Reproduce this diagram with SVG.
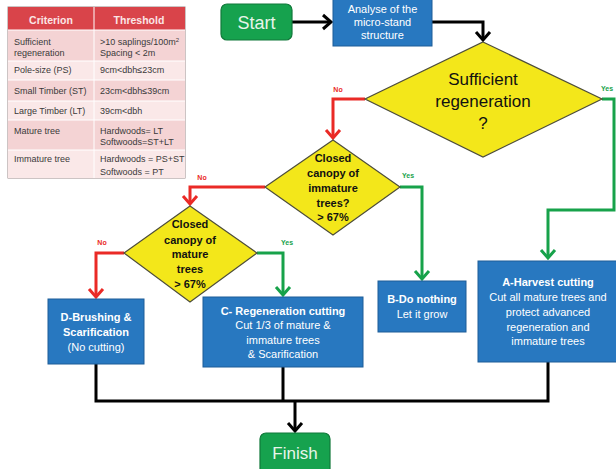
<svg xmlns="http://www.w3.org/2000/svg" width="616" height="469" viewBox="0 0 616 469">
<style>
.t{font-family:"Liberation Sans",Arial,sans-serif}
.tb{font-size:9px;fill:#3a3a3a}
.hd{font-size:10.5px;fill:#fbe6e6;font-weight:bold}
.wb{fill:#fff;font-size:11px;text-anchor:middle}
.bold{font-weight:bold}
.dia{fill:#f3e71a;stroke:#4d4d3a;stroke-width:1.2}
.dt{font-size:11px;font-weight:bold;fill:#111;text-anchor:middle}
.box{fill:#2878c0;stroke:#1c5d98;stroke-width:1}
.grn{fill:#16a24e;stroke:#11793a;stroke-width:1.2}
.cb{fill:none;stroke:#000;stroke-width:3}
.cr{fill:none;stroke:#ea2a26;stroke-width:3}
.cg{fill:none;stroke:#17a24a;stroke-width:3}
.lr{font-size:7px;font-weight:bold;fill:#ea2a26;text-anchor:middle}
.lg{font-size:7px;font-weight:bold;fill:#17a24a;text-anchor:middle}
</style>
<defs>
<marker id="ab" markerUnits="userSpaceOnUse" markerWidth="20" markerHeight="20" refX="10" refY="10" orient="auto" overflow="visible"><path d="M2,3 L10,10 L2,17" fill="none" stroke="#000" stroke-width="3"/></marker>
<marker id="ar" markerUnits="userSpaceOnUse" markerWidth="20" markerHeight="20" refX="10" refY="10" orient="auto" overflow="visible"><path d="M2,3 L10,10 L2,17" fill="none" stroke="#ea2a26" stroke-width="3"/></marker>
<marker id="ag" markerUnits="userSpaceOnUse" markerWidth="20" markerHeight="20" refX="10" refY="10" orient="auto" overflow="visible"><path d="M2,3 L10,10 L2,17" fill="none" stroke="#17a24a" stroke-width="3"/></marker>
</defs>
<rect width="616" height="469" fill="#fff"/>

<g id="table" class="t">
<rect x="8" y="7" width="177" height="171" fill="#fff" stroke="#9a8a8a" stroke-width="1"/>
<rect x="8" y="7" width="177" height="23" fill="#d9444a"/>
<rect x="8" y="30" width="177" height="31" fill="#f4d3d4"/>
<rect x="8" y="61" width="177" height="19" fill="#fae8e8"/>
<rect x="8" y="80" width="177" height="21" fill="#f4d3d4"/>
<rect x="8" y="101" width="177" height="19" fill="#fae8e8"/>
<rect x="8" y="120" width="177" height="30" fill="#f4d3d4"/>
<rect x="8" y="150" width="177" height="28" fill="#fae8e8"/>
<g stroke="#fff" stroke-width="1"><line x1="94" y1="7" x2="94" y2="178"/><line x1="8" y1="30" x2="185" y2="30"/><line x1="8" y1="61" x2="185" y2="61"/><line x1="8" y1="80" x2="185" y2="80"/><line x1="8" y1="101" x2="185" y2="101"/><line x1="8" y1="120" x2="185" y2="120"/><line x1="8" y1="150" x2="185" y2="150"/></g>
<text class="hd" x="51" y="24" text-anchor="middle">Criterion</text>
<text class="hd" x="139" y="24" text-anchor="middle">Threshold</text>
<g class="tb">
<text x="14" y="45">Sufficient</text><text x="14" y="56">regeneration</text>
<text x="100" y="45">&gt;10 saplings/100m<tspan font-size="6" dy="-3">2</tspan></text><text x="100" y="56">Spacing &lt;  2m</text>
<text x="14" y="73">Pole-size (PS)</text><text x="100" y="73">9cm&lt;dbh≤23cm</text>
<text x="14" y="94">Small Timber (ST)</text><text x="100" y="94">23cm&lt;dbh≤39cm</text>
<text x="14" y="114">Large Timber (LT)</text><text x="100" y="114">39cm&lt;dbh</text>
<text x="14" y="134">Mature tree</text><text x="100" y="134">Hardwoods= LT</text><text x="100" y="145">Softwoods=ST+LT</text>
<text x="14" y="162">Immature tree</text><text x="100" y="162">Hardwoods = PS+ST</text><text x="100" y="175">Softwoods = PT</text>
</g>
</g>

<g id="connectors">
<path class="cb" d="M292,22 H331" marker-end="url(#ab)"/>
<path class="cb" d="M432,22 H483 V40" marker-end="url(#ab)"/>
<path class="cr" d="M365,99 H333 V138" marker-end="url(#ar)"/>
<path class="cg" d="M602,99 H614 V210 H548 V258" marker-end="url(#ag)"/>
<path class="cr" d="M265,187 H190 V204" marker-end="url(#ar)"/>
<path class="cg" d="M400,187 H422 V279" marker-end="url(#ag)"/>
<path class="cr" d="M124,253 H96 V297" marker-end="url(#ar)"/>
<path class="cg" d="M257,253 H283 V295" marker-end="url(#ag)"/>
<path class="cb" d="M96,364 V401 H548 V362"/>
<path class="cb" d="M283,367 V401"/>
<path class="cb" d="M295,401 V431" marker-end="url(#ab)"/>
<g class="t">
<text class="lr" x="338" y="92">No</text>
<text class="lg" x="607" y="91">Yes</text>
<text class="lr" x="202" y="180">No</text>
<text class="lg" x="408" y="178">Yes</text>
<text class="lr" x="102" y="245">No</text>
<text class="lg" x="287" y="245">Yes</text>
</g>
</g>

<g id="start" class="t">
<rect class="grn" x="221" y="4" width="71" height="36" rx="6"/>
<text x="256.5" y="28.5" text-anchor="middle" fill="#e8f5ea" font-size="18">Start</text>
</g>

<g id="analyse" class="t">
<rect class="box" x="333" y="-2" width="99" height="48"/>
<text class="wb" x="382.5" y="13" font-size="9.5" fill="#dce9f6">Analyse of the</text>
<text class="wb" x="382.5" y="26" font-size="9.5">micro-stand</text>
<text class="wb" x="382.5" y="39" font-size="9.5">structure</text>
</g>

<g id="d1" class="t">
<polygon class="dia" points="483,42 602,99 483,157 365,99"/>
<text x="483" y="85" text-anchor="middle" font-size="17" fill="#111">Sufficient</text>
<text x="483" y="107" text-anchor="middle" font-size="17" fill="#111">regeneration</text>
<text x="483" y="129" text-anchor="middle" font-size="17" fill="#111">?</text>
</g>

<g id="d2" class="t">
<polygon class="dia" points="333,140 400,187 333,235 265,187"/>
<text class="dt" x="333" y="162">Closed</text>
<text class="dt" x="333" y="177">canopy of</text>
<text class="dt" x="333" y="192">immature</text>
<text class="dt" x="333" y="207">trees?</text>
<text class="dt" x="333" y="221">&gt; 67%</text>
</g>

<g id="d3" class="t">
<polygon class="dia" points="190,206 257,253 190,302 124,253"/>
<text class="dt" x="190" y="228">Closed</text>
<text class="dt" x="190" y="244">canopy of</text>
<text class="dt" x="190" y="258">mature</text>
<text class="dt" x="190" y="273">trees</text>
<text class="dt" x="190" y="288">&gt; 67%</text>
</g>

<g id="boxD" class="t">
<rect class="box" x="48" y="299" width="96" height="65"/>
<text class="wb bold" x="96" y="321">D-Brushing &amp;</text>
<text class="wb bold" x="96" y="336">Scarification</text>
<text class="wb" x="96" y="351">(No cutting)</text>
</g>

<g id="boxC" class="t">
<rect class="box" x="203" y="297" width="160" height="70"/>
<text class="wb bold" x="283" y="315">C- Regeneration cutting</text>
<text class="wb" x="283" y="329">Cut 1/3 of mature &amp;</text>
<text class="wb" x="283" y="344">immature trees</text>
<text class="wb" x="283" y="358">&amp; Scarification</text>
</g>

<g id="boxB" class="t">
<rect class="box" x="378" y="281" width="88" height="51"/>
<text class="wb bold" x="422" y="303">B-Do nothing</text>
<text class="wb" x="422" y="318">Let it grow</text>
</g>

<g id="boxA" class="t">
<rect class="box" x="478" y="261" width="140" height="101"/>
<text class="wb bold" x="548" y="286">A-Harvest cutting</text>
<text class="wb" x="548" y="301">Cut all mature trees and</text>
<text class="wb" x="548" y="316">protect advanced</text>
<text class="wb" x="548" y="331">regeneration and</text>
<text class="wb" x="548" y="345">immature trees</text>
</g>

<g id="finish" class="t">
<rect class="grn" x="260" y="433" width="70" height="42" rx="6"/>
<text x="295" y="459" text-anchor="middle" fill="#e8f5ea" font-size="17">Finish</text>
</g>
</svg>
